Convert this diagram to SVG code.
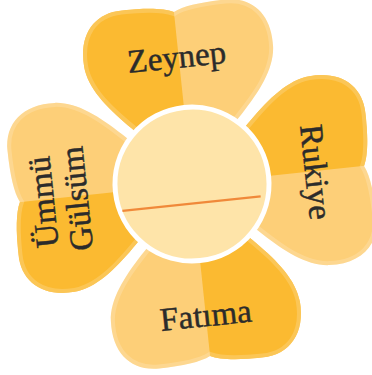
<svg xmlns="http://www.w3.org/2000/svg" xmlns:xlink="http://www.w3.org/1999/xlink" width="372" height="375" viewBox="0 0 372 375">
<style>
.light{fill:#FDCF78}
.dark{fill:#FBBA31}
.rim{fill:none;stroke:#FFFFFF;stroke-opacity:0.18;stroke-width:8}
.lbl{font-family:"Liberation Serif","DejaVu Serif",serif;font-size:33px;fill:#2B2B2B;stroke:#2B2B2B;stroke-width:0.45;text-anchor:middle}
</style>
<defs>
<path id="petal" d="M0,-5 C-30,-45 -92,-85 -95,-128 C-97,-160 -80,-180 -52,-180 C-28,-180 -10,-178 0,-173 C10,-178 28,-180 52,-180 C80,-180 97,-160 95,-128 C92,-85 30,-45 0,-5 Z"/>
<clipPath id="pc" clipPathUnits="userSpaceOnUse"><use xlink:href="#petal"/></clipPath>
<g id="petalShape">
<use xlink:href="#petal" class="light"/>
<rect x="-110" y="-190" width="110" height="200" class="dark" clip-path="url(#pc)"/>
<use xlink:href="#petal" class="rim" clip-path="url(#pc)"/>
</g>
</defs>
<g transform="translate(192,184) rotate(-6)">
<g id="petal-zeynep"><use xlink:href="#petalShape"/><text class="lbl" x="-2" y="-117">Zeynep</text></g>
<g id="petal-rukiye"><use xlink:href="#petalShape" transform="rotate(90)"/><text class="lbl" transform="translate(113.5,1) rotate(90)">Rukiye</text></g>
<g id="petal-fatima"><use xlink:href="#petalShape" transform="rotate(180)"/><text class="lbl" x="0" y="143">Fatıma</text></g>
<g id="petal-ummu-gulsum"><use xlink:href="#petalShape" transform="rotate(270)"/><text class="lbl" transform="translate(-139,2.5) rotate(-90)">Ümmü</text><text class="lbl" transform="translate(-105,2.5) rotate(-90)">Gülsüm</text></g>
<g id="center"><circle cx="0" cy="0" r="77" fill="#FEE4A9" stroke="#FFFFFF" stroke-width="5"/></g>
<g id="connectors"><line x1="-72" y1="19.5" x2="67" y2="19.5" stroke="#F0893A" stroke-width="2.2"/></g>
</g>
</svg>
